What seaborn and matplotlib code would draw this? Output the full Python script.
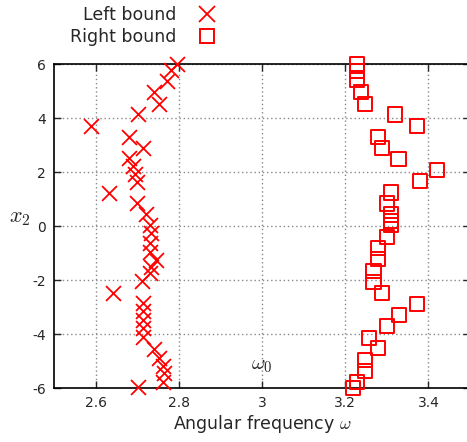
import matplotlib
matplotlib.use("Agg")
import matplotlib.pyplot as plt
import seaborn as sns
import pandas as pd
from matplotlib.lines import Line2D

# Left bound (crosses)
left_omega = [2.795, 2.781, 2.771, 2.740, 2.753, 2.703, 2.590, 2.681, 2.713, 2.681,
              2.690, 2.695, 2.700, 2.633, 2.700, 2.722, 2.730, 2.732, 2.730, 2.730,
              2.745, 2.734, 2.731, 2.711, 2.641, 2.713, 2.713, 2.713, 2.713, 2.713,
              2.740, 2.752, 2.762, 2.765, 2.763, 2.703]
left_x2 = [6.00, 5.79, 5.38, 4.97, 4.54, 4.14, 3.72, 3.30, 2.89, 2.52,
           2.22, 1.95, 1.64, 1.22, 0.84, 0.44, 0.05, -0.26, -0.62, -0.95,
           -1.25, -1.50, -1.72, -2.04, -2.48, -2.86, -3.16, -3.47, -3.78, -4.10,
           -4.56, -4.88, -5.18, -5.46, -5.77, -5.96]

# Right bound (squares)
right_omega = [3.228, 3.228, 3.228, 3.238, 3.248, 3.319, 3.372, 3.279, 3.288, 3.328,
               3.420, 3.379, 3.310, 3.300, 3.310, 3.310, 3.310, 3.300, 3.279, 3.279,
               3.268, 3.268, 3.288, 3.372, 3.329, 3.300, 3.258, 3.279, 3.248, 3.248,
               3.228, 3.218]
right_x2 = [6.00, 5.75, 5.41, 4.97, 4.54, 4.14, 3.72, 3.31, 2.90, 2.48,
            2.07, 1.67, 1.25, 0.84, 0.43, 0.18, 0.03, -0.40, -0.82, -1.22,
            -1.65, -2.06, -2.47, -2.89, -3.30, -3.70, -4.14, -4.53, -4.96, -5.37,
            -5.77, -5.99]

xticks = [2.6, 2.8, 3.0, 3.2, 3.4]
xticklabels = ["2.6", "2.8", "3", "3.2", "3.4"]
yticks = [-6, -4, -2, 0, 2, 4, 6]
yticklabels = ["-6", "-4", "-2", "0", "2", "4", "6"]

sns.set_style("white")
plt.rcParams["mathtext.fontset"] = "cm"
plt.rcParams["font.family"] = ["DejaVu Sans"]

W, H = 467, 442
fig = plt.figure(figsize=(W / 100, H / 100), dpi=100)
ax = fig.add_axes([54 / W, 1 - 388 / H, (470 - 54) / W, (388 - 64.3) / H])

left_df = pd.DataFrame({"omega": left_omega, "x2": left_x2})
right_df = pd.DataFrame({"omega": right_omega, "x2": right_x2})

sns.scatterplot(data=left_df, x="omega", y="x2", ax=ax, marker="x", color="red",
                s=115, linewidth=1.3, zorder=3, clip_on=False, legend=False)
sns.scatterplot(data=right_df, x="omega", y="x2", ax=ax, marker="s", fc="none",
                ec="red", s=105, linewidth=1.4, zorder=3, clip_on=False, legend=False)

ax.set_xlim(2.5, 3.5)
ax.set_ylim(-6, 6)
ax.set_xticks(xticks)
ax.set_xticklabels(xticklabels, fontsize=10)
ax.set_yticks(yticks)
ax.set_yticklabels(yticklabels, fontsize=10)
ax.tick_params(direction="in", length=5, width=1, top=True, right=True,
               bottom=True, left=True, pad=6)
ax.grid(True, color="#888888", linestyle=(0, (1, 2)), linewidth=1)
for sp in ax.spines.values():
    sp.set_color("black")
    sp.set_linewidth(1.2)
ax.set_xlabel("")
ax.set_ylabel("")

ax.text(3.0, -5.15, r"$\omega_0$", fontsize=15, ha="center", va="center")
fig.text(262 / W, 1 - 424 / H, r"Angular frequency $\omega$", fontsize=12.5,
         ha="center", va="center")
fig.text(20 / W, 1 - 218 / H, r"$x_2$", fontsize=16, ha="center", va="center")

handles = [
    Line2D([], [], linestyle="none", marker="x", color="red", markersize=11,
           markeredgewidth=1.3),
    Line2D([], [], linestyle="none", marker="s", markerfacecolor="none",
           markeredgecolor="red", markersize=10.5, markeredgewidth=1.4),
]
fig.legend(handles, ["Left bound", "Right bound"], loc="upper right",
           bbox_to_anchor=(222 / W, 1 - 4 / H), frameon=False, markerfirst=False,
           fontsize=12.5, handlelength=1.5, handletextpad=1.0, labelspacing=0.25,
           borderaxespad=0.0, borderpad=0.1)

fig.savefig("out.png", dpi=100)
